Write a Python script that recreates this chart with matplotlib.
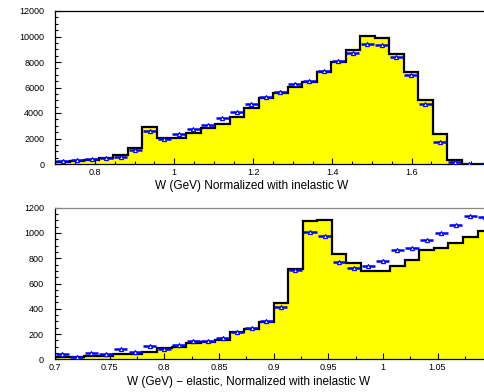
import numpy as np
import matplotlib
matplotlib.use("Agg")
import matplotlib.pyplot as plt
from matplotlib.ticker import MultipleLocator, FuncFormatter

plt.rcParams['font.family'] = ['Liberation Sans', 'DejaVu Sans']

# top panel: W, 30 bins 0.7 - 1.8 GeV
top_edges = np.linspace(0.7, 1.8, 31)
top_hist = [180, 235, 314, 444, 680, 1230, 2890, 2040, 2040, 2450,
            2830, 3110, 3710, 4390, 5150, 5540, 6065, 6460, 7240, 8020,
            8940, 10040, 9855, 8600, 7240, 5020, 2380, 280, 30, 0]
top_data = [200, 290, 366, 475, 575, 1070, 2560, 1960, 2350, 2730,
            3090, 3590, 4070, 4680, 5255, 5650, 6250, 6535, 7320, 8060,
            8680, 9385, 9310, 8390, 6980, 4680, 1750, 170, 30, 20]

# bottom panel: W - elastic, 30 bins 0.7 - 1.1 GeV
bot_edges = np.linspace(0.7, 1.1, 31)
bot_hist = [20, 20, 30, 30, 40, 42, 60, 87, 97, 127,
            133, 153, 219, 237, 298, 448, 712, 1095, 1105, 831,
            760, 700, 700, 739, 784, 865, 884, 923, 971, 1014]
bot_data = [38, 22, 50, 45, 85, 58, 105, 79, 113, 142,
            145, 166, 214, 245, 300, 417, 704, 1008, 973, 770,
            722, 741, 775, 867, 884, 947, 997, 1065, 1135, 1130]

top_xlabel = "W (GeV) Normalized with inelastic W"
bot_xlabel = "W (GeV) \u2212 elastic, Normalized with inelastic W"

fig = plt.figure(figsize=(4.85, 3.92), dpi=100)
ax1 = fig.add_axes([55.4 / 485, 1 - 164 / 392, 435.4 / 485, 153 / 392])
ax2 = fig.add_axes([55 / 485, 1 - 359.3 / 392, 437.2 / 485, 151.6 / 392])


def draw(ax, edges, hist, data, ymax, xmaj, xmin, ymaj, ymin, topcol):
    ax.stairs(hist, edges, fill=True, color='#ffff00', zorder=1)
    ax.stairs(hist, edges, color='black', lw=1.6, zorder=2)
    centers = 0.5 * (edges[:-1] + edges[1:])
    half = 0.5 * (edges[1] - edges[0])
    ax.errorbar(centers, data, xerr=half * 0.9, fmt='^', ms=3.0,
                mfc='white', mec='blue', mew=0.8, ecolor='blue',
                elinewidth=1.8, capsize=0, zorder=3)
    ax.set_xlim(edges[0], edges[-1])
    ax.set_ylim(0, ymax)
    ax.xaxis.set_major_locator(MultipleLocator(xmaj))
    ax.xaxis.set_minor_locator(MultipleLocator(xmin))
    ax.yaxis.set_major_locator(MultipleLocator(ymaj))
    ax.yaxis.set_minor_locator(MultipleLocator(ymin))
    # the last x label falls off the right edge, leave it out
    xend = edges[-1]
    ax.xaxis.set_major_formatter(
        FuncFormatter(lambda v, p: '' if abs(v - xend) < 1e-6 else '%g' % v))
    ax.yaxis.set_major_formatter(FuncFormatter(lambda v, p: '%g' % v))
    ax.tick_params(which='both', direction='in', top=False, right=False,
                   labelsize=6.5, width=0.8)
    ax.tick_params(which='major', length=4)
    ax.tick_params(which='minor', length=2)
    ax.tick_params(axis='y', pad=8)
    ax.tick_params(axis='x', pad=3)
    ax.spines['right'].set_visible(False)
    ax.spines['top'].set_color(topcol)
    for s in ['left', 'bottom', 'top']:
        ax.spines[s].set_linewidth(0.9)


draw(ax1, top_edges, top_hist, top_data, 12000, 0.2, 0.05, 2000, 500, 'black')
draw(ax2, bot_edges, bot_hist, bot_data, 1200, 0.05, 0.025, 200, 50, '#888888')

fig.text(252 / 485, 1 - 186 / 392, top_xlabel, ha='center', va='center', fontsize=8.5)
fig.text(249 / 485, 1 - 382 / 392, bot_xlabel, ha='center', va='center', fontsize=8.5)

fig.savefig('out.png', dpi=100)
